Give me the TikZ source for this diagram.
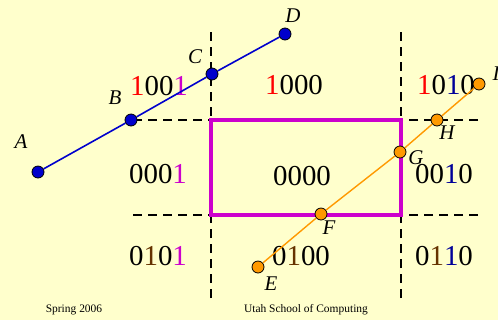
\documentclass[tikz,border=0pt]{standalone}
\usepackage{fontspec}
\setmainfont{Liberation Serif}
\usepackage{xcolor}
\usepackage{tikz}
\usetikzlibrary{positioning}
\definecolor{slidebg}{HTML}{FFFFCC}
\definecolor{winmag}{HTML}{CC00CC}
\definecolor{ptblue}{HTML}{0000CC}
\definecolor{ptorange}{HTML}{FF9900}
\definecolor{bitred}{HTML}{FF0000}
\definecolor{bitbrown}{HTML}{663300}
\definecolor{bitblue}{HTML}{000099}
\newcommand{\cb}[2]{\textcolor{#1}{#2}}

\begin{document}
\begin{tikzpicture}[
  x=1bp, y=-1bp,
  bound/.style={line width=2.6bp, dash pattern=on 9bp off 6bp},
  window/.style={line width=4bp, winmag},
  segab/.style={line width=1.6bp, ptblue},
  segef/.style={line width=1.4bp, ptorange},
  dotb/.style={circle, draw=black, fill=ptblue, line width=0.8bp,
    inner sep=0pt, minimum size=12bp},
  doto/.style={circle, draw=black, fill=ptorange, line width=0.8bp,
    inner sep=0pt, minimum size=12bp},
  code/.style={font=\fontsize{29}{30}\selectfont, inner sep=0pt},
  ptlbl/.style={font=\fontsize{21}{22}\selectfont\itshape, inner sep=0pt},
  foot/.style={font=\fontsize{11.5}{12}\selectfont, inner sep=0pt},
]
  % Slide background
  \fill[slidebg] (0,0) rectangle (498,320);
  \useasboundingbox (0,0) rectangle (498,320);

  % ── Region boundaries ────────────────────────────────────────────────
  \coordinate (wTL) at (211,120);
  \coordinate (wBR) at (401,215);
  \coordinate (vl1) at (211,32);   \coordinate (vl2) at (211,298);
  \coordinate (vr1) at (401,32);   \coordinate (vr2) at (401,298);
  \coordinate (ht1) at (133,120);  \coordinate (ht2) at (478,120);
  \coordinate (hb1) at (133,215);  \coordinate (hb2) at (478,215);
  \draw[bound] (vl1) -- (vl1 |- wTL);
  \draw[bound] (vl2) -- (vl2 |- wBR);
  \draw[bound] (vr1) -- (vr1 |- wTL);
  \draw[bound] (vr2) -- (vr2 |- wBR);
  \draw[bound] (ht1) -- (ht1 -| wTL);
  \draw[bound] (ht2) -- (ht2 -| wBR);
  \draw[bound] (hb1) -- (hb1 -| wTL);
  \draw[bound] (hb2) -- (hb2 -| wBR);
  \draw[window] (wTL) rectangle (wBR);

  % ── Outcodes ─────────────────────────────────────────────────────────
  \node[code] (c1001) at (159,86)  {\cb{bitred}{1}00\cb{winmag}{1}};
  \node[code] (c1000) at (294,85)  {\cb{bitred}{1}000};
  \node[code] (c1010) at (446,85)  {\cb{bitred}{1}0\cb{bitblue}{1}0};
  \node[code] (c0001) at (158,174) {000\cb{winmag}{1}};
  \node[code] (c0000) at (302,176) {0000};
  \node[code] (c0010) at (444,174) {00\cb{bitblue}{1}0};
  \node[code] (c0101) at (158,256) {0\cb{bitbrown}{1}0\cb{winmag}{1}};
  \node[code] (c0100) at (301,256) {0\cb{bitbrown}{1}00};
  \node[code] (c0110) at (444,256) {0\cb{bitbrown}{1}\cb{bitblue}{1}0};

  % ── Segment AD ───────────────────────────────────────────────────────
  \node[dotb] (A) at (38,172) {};
  \node[dotb] (B) at (131,120) {};
  \node[dotb] (C) at (212,74) {};
  \node[dotb] (D) at (285,34) {};
  \draw[segab] (A) -- (B) -- (C) -- (D);

  % ── Segment EI ───────────────────────────────────────────────────────
  \node[doto] (E) at (258,267) {};
  \node[doto] (F) at (321,214) {};
  \node[doto] (G) at (400,152) {};
  \node[doto] (H) at (437,120) {};
  \node[doto] (I) at (479,84) {};
  \draw[segef] (E) -- (F) -- (G) -- (H) -- (I);

  % point labels
  \node[ptlbl] (lA) at (21,142) {A};
  \node[ptlbl] (lB) at (115,98) {B};
  \node[ptlbl] (lC) at (195,57) {C};
  \node[ptlbl] (lD) at (293,16) {D};
  \node[ptlbl] (lE) at (271,284) {E};
  \node[ptlbl] (lF) at (329,228) {F};
  \node[ptlbl] (lG) at (416,158) {G};
  \node[ptlbl] (lH) at (447,133) {H};
  \node[ptlbl] (lI) at (496,74) {I};

  % footer
  \node[foot] (spring) at (74,310) {Spring 2006};
  \node[foot] (school) at (306,310) {Utah School of Computing};
\end{tikzpicture}
\end{document}
